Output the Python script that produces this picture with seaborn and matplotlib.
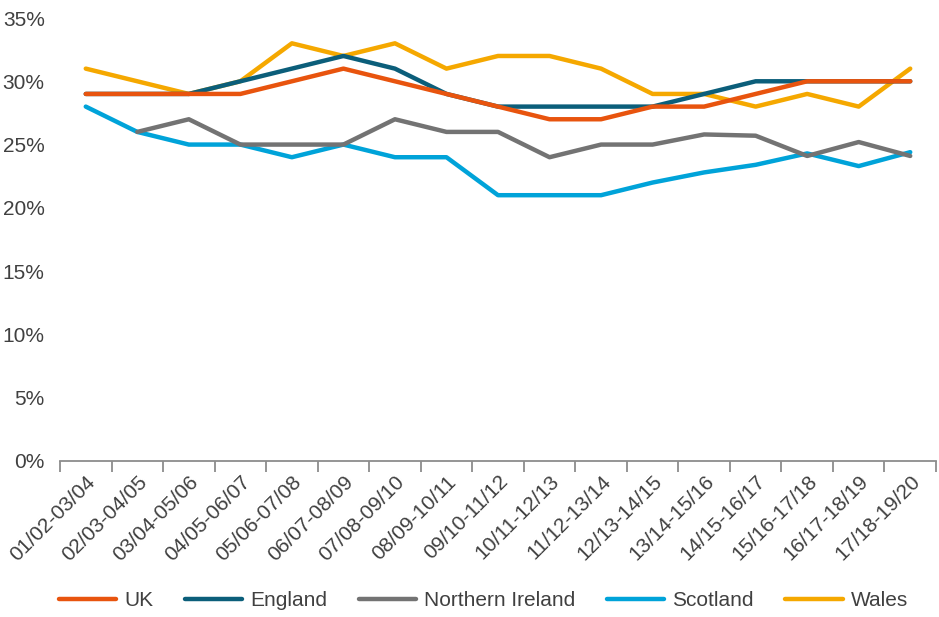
import matplotlib
matplotlib.use("Agg")
import matplotlib.pyplot as plt
import seaborn as sns
import numpy as np
import pandas as pd
from matplotlib.ticker import FixedLocator, PercentFormatter

# data (percent)
periods = ["01/02-03/04", "02/03-04/05", "03/04-05/06", "04/05-06/07", "05/06-07/08",
           "06/07-08/09", "07/08-09/10", "08/09-10/11", "09/10-11/12", "10/11-12/13",
           "11/12-13/14", "12/13-14/15", "13/14-15/16", "14/15-16/17", "15/16-17/18",
           "16/17-18/19", "17/18-19/20"]
uk = [29, 29, 29, 29, 30, 31, 30, 29, 28, 27, 27, 28, 28, 29, 30, 30, 30]
england = [29, 29, 29, 30, 31, 32, 31, 29, 28, 28, 28, 28, 29, 30, 30, 30, 30]
n_ireland = [np.nan, 26, 27, 25, 25, 25, 27, 26, 26, 24, 25, 25, 25.8, 25.7, 24.1, 25.2, 24.1]
scotland = [28, 26, 25, 25, 24, 25, 24, 24, 21, 21, 21, 22, 22.8, 23.4, 24.3, 23.3, 24.4]
wales = [31, 30, 29, 30, 33, 32, 33, 31, 32, 32, 31, 29, 29, 28, 29, 28, 31]

series = ["UK", "England", "Northern Ireland", "Scotland", "Wales"]
colors = {"UK": "#E8540E", "England": "#0B5E7A", "Northern Ireland": "#737373",
          "Scotland": "#00A3D9", "Wales": "#F5A800"}
zorders = {"UK": 4, "England": 3, "Northern Ireland": 3.5, "Scotland": 2.5, "Wales": 2.8}

df = pd.DataFrame({"period": periods, "UK": uk, "England": england,
                   "Northern Ireland": n_ireland, "Scotland": scotland, "Wales": wales})
df["pos"] = np.arange(len(periods))
long = df.melt(id_vars=["period", "pos"], value_vars=series, var_name="region", value_name="share")

sns.set_theme(style="white")
plt.rcParams["font.family"] = ["Liberation Sans", "DejaVu Sans"]
text_col = "#404040"

fig = plt.figure(figsize=(9.39, 6.17), dpi=100)
ax = fig.add_axes([60 / 939, 1 - 461 / 617, 876 / 939, 443 / 617])

for name in series:
    sub = long[long["region"] == name].dropna()
    sns.lineplot(data=sub, x="pos", y="share", ax=ax, color=colors[name], linewidth=3.2,
                 label=name, zorder=zorders[name], solid_capstyle="round", sort=False)

ax.set_xlim(-0.5, len(periods) - 0.5)
ax.set_ylim(0, 35)
ax.yaxis.set_major_locator(FixedLocator(np.arange(0, 36, 5)))
ax.yaxis.set_major_formatter(PercentFormatter(decimals=0))
ax.set_xticks(np.arange(len(periods)))
ax.set_xticklabels(periods, rotation=45, ha="right", va="top", rotation_mode="anchor")
ax.set_xticks(np.arange(len(periods) + 1) - 0.5, minor=True)
ax.tick_params(axis="x", which="major", length=0, pad=8, labelsize=15, labelcolor=text_col)
ax.tick_params(axis="x", which="minor", length=8, width=1.3, color="#8C8C8C", bottom=True)
ax.tick_params(axis="y", length=0, pad=11, labelsize=15, labelcolor=text_col)
ax.set_xlabel("")
ax.set_ylabel("")

for side in ["top", "right", "left"]:
    ax.spines[side].set_visible(False)
ax.spines["bottom"].set_color("#8C8C8C")
ax.spines["bottom"].set_linewidth(1.3)
ax.grid(False)

ax.legend(loc="center", bbox_to_anchor=(0.4835, -140 / 443), ncol=5, frameon=False,
          fontsize=15, handlelength=2.75, handletextpad=0.4, columnspacing=1.5,
          labelcolor=text_col, borderaxespad=0)

fig.savefig("out.png", dpi=100)
